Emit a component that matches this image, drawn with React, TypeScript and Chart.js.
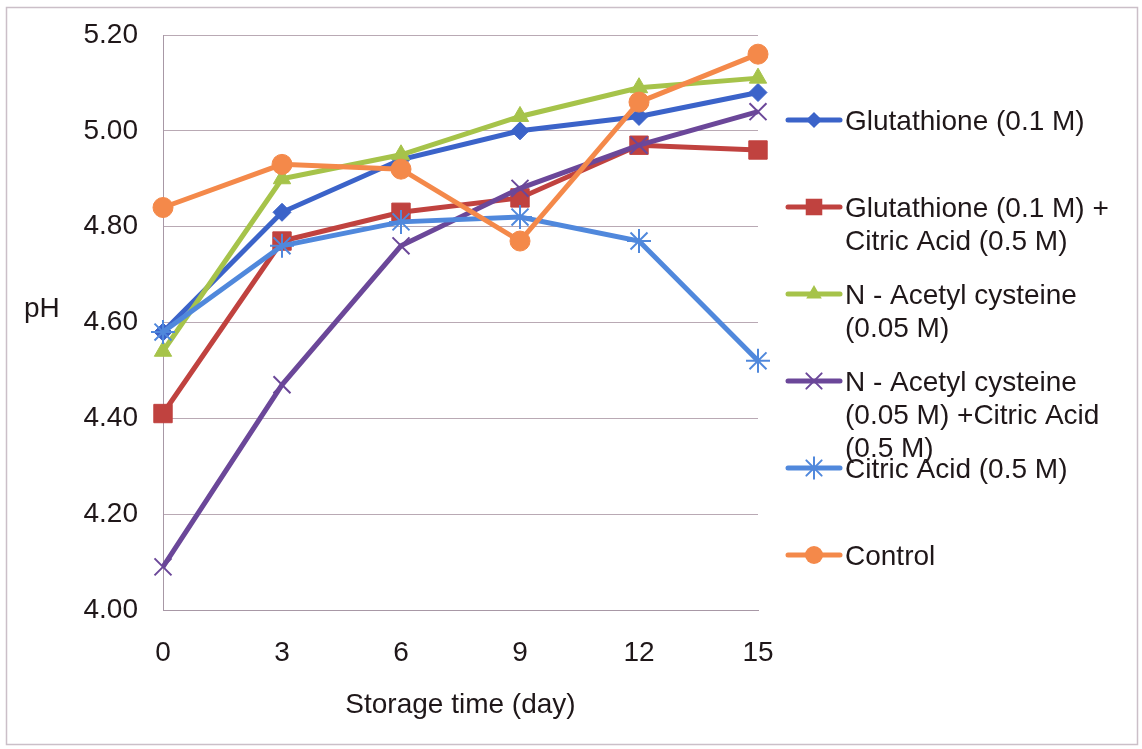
import React, { useEffect, useRef } from 'react';
import { Chart, registerables } from 'chart.js';

Chart.register(...registerables);

const days = ['0', '3', '6', '9', '12', '15'];
const glutathione = [4.58, 4.83, 4.94, 5.0, 5.03, 5.08];
const glutCitric = [4.41, 4.77, 4.83, 4.86, 4.97, 4.96];
const nac = [4.54, 4.9, 4.95, 5.03, 5.09, 5.11];
const nacCitric = [4.09, 4.47, 4.76, 4.88, 4.97, 5.04];
const citric = [4.58, 4.76, 4.81, 4.82, 4.77, 4.52];
const control = [4.84, 4.93, 4.92, 4.77, 5.06, 5.16];

const seriesNames = [
  'Glutathione (0.1 M)',
  'Glutathione (0.1 M) + Citric Acid (0.5 M)',
  'N - Acetyl cysteine (0.05 M)',
  'N - Acetyl cysteine (0.05 M) +Citric Acid (0.5 M)',
  'Citric Acid (0.5 M)',
  'Control',
];
const legendLines = [
  ['Glutathione (0.1 M)'],
  ['Glutathione (0.1 M) +', 'Citric Acid (0.5 M)'],
  ['N - Acetyl cysteine', '(0.05 M)'],
  ['N - Acetyl cysteine', '(0.05 M) +Citric Acid', '(0.5 M)'],
  ['Citric Acid (0.5 M)'],
  ['Control'],
];
const yMin = 4.0;
const yMax = 5.2;
const yStep = 0.2;
const xTitle = 'Storage time (day)';
const yTitle = 'pH';

const colors = ['#3b63c9', '#c0423f', '#a6c34a', '#6b4799', '#5088dc', '#f4894a'];
const styles = ['rectRot', 'rect', 'triangle', 'crossRot', 'star', 'circle'];
const radii = [9, 13, 10, 12, 12, 10];

const FONT = "'Liberation Sans', Arial, sans-serif";
const TEXT = '#1f1719';

function drawMarker(ctx: CanvasRenderingContext2D, style: string, x: number, y: number, r: number, color: string) {
  ctx.save();
  ctx.fillStyle = color;
  ctx.strokeStyle = color;
  ctx.lineWidth = 2;
  ctx.beginPath();
  if (style === 'rectRot') {
    ctx.moveTo(x, y - r);
    ctx.lineTo(x + r, y);
    ctx.lineTo(x, y + r);
    ctx.lineTo(x - r, y);
    ctx.closePath();
    ctx.fill();
  } else if (style === 'rect') {
    const s = r * Math.SQRT1_2;
    ctx.rect(x - s, y - s, 2 * s, 2 * s);
    ctx.fill();
  } else if (style === 'triangle') {
    const h = r * 1.5;
    const w = r * Math.sqrt(3) / 2;
    ctx.moveTo(x, y - r);
    ctx.lineTo(x + w, y - r + h);
    ctx.lineTo(x - w, y - r + h);
    ctx.closePath();
    ctx.fill();
  } else if (style === 'circle') {
    ctx.arc(x, y, r, 0, Math.PI * 2);
    ctx.fill();
  } else if (style === 'crossRot' || style === 'star') {
    const d = r * Math.SQRT1_2;
    ctx.moveTo(x - d, y - d);
    ctx.lineTo(x + d, y + d);
    ctx.moveTo(x - d, y + d);
    ctx.lineTo(x + d, y - d);
    if (style === 'star') {
      ctx.moveTo(x, y - r);
      ctx.lineTo(x, y + r);
      ctx.moveTo(x - r, y);
      ctx.lineTo(x + r, y);
    }
    ctx.stroke();
  }
  ctx.restore();
}

const framePlugin = {
  id: 'frame',
  beforeDraw(chart: any) {
    const ctx = chart.ctx as CanvasRenderingContext2D;
    ctx.save();
    ctx.fillStyle = '#ffffff';
    ctx.fillRect(0, 0, chart.width, chart.height);
    ctx.strokeStyle = '#cbbfc8';
    ctx.lineWidth = 1.5;
    ctx.strokeRect(6.5, 7.5, 1131, 737);
    ctx.restore();
  },
  afterDraw(chart: any) {
    const ctx = chart.ctx as CanvasRenderingContext2D;
    ctx.save();
    ctx.font = `28px ${FONT}`;
    ctx.fillStyle = TEXT;
    ctx.textBaseline = 'alphabetic';
    ctx.textAlign = 'left';
    ctx.fillText(yTitle, 24, 317);
    // legend
    chart.data.datasets.forEach((ds: any, i: number) => {
      const base = 130 + 87 * i;
      const ly = base - 10;
      ctx.strokeStyle = ds.borderColor;
      ctx.lineWidth = 5;
      ctx.lineCap = 'round';
      ctx.beginPath();
      ctx.moveTo(788, ly);
      ctx.lineTo(840, ly);
      ctx.stroke();
      drawMarker(ctx, ds.pointStyle, 814, ly, ds.pointRadius * 0.9, ds.borderColor);
      ctx.fillStyle = TEXT;
      legendLines[i].forEach((t, k) => ctx.fillText(t, 845, base + 33 * k));
    });
    ctx.restore();
  },
};

export default function App() {
  const ref = useRef<HTMLCanvasElement | null>(null);
  useEffect(() => {
    document.body.style.margin = '0';
    if (!ref.current) return;
    const series = [glutathione, glutCitric, nac, nacCitric, citric, control];
    const chart = new Chart(ref.current, {
      type: 'line',
      data: {
        labels: days,
        datasets: series.map((d, i) => ({
          label: seriesNames[i],
          data: d,
          borderColor: colors[i],
          backgroundColor: colors[i],
          borderWidth: 5,
          pointStyle: styles[i],
          pointRadius: radii[i],
          pointBorderWidth: styles[i] === 'crossRot' || styles[i] === 'star' ? 2 : 1,
          pointBorderColor: colors[i],
          pointBackgroundColor: colors[i],
          tension: 0,
          order: -i,
        })),
      },
      options: {
        responsive: false,
        animation: false,
        devicePixelRatio: 1,
        layout: { padding: { left: 0, top: 35, right: 384, bottom: 0 } },
        plugins: { legend: { display: false }, tooltip: { enabled: false } },
        scales: {
          x: {
            type: 'category',
            offset: false,
            grid: { display: false, drawTicks: false },
            border: { display: true, color: '#a898a6', width: 1 },
            ticks: { font: { family: FONT, size: 28 }, color: TEXT, padding: 26, maxRotation: 0 },
            title: {
              display: true,
              text: xTitle,
              font: { family: FONT, size: 28 },
              color: TEXT,
              padding: { top: 0, bottom: 27 },
            },
            afterFit: (s: any) => {
              s.height = 139;
              s.paddingLeft = 0;
              s.paddingRight = 0;
            },
          },
          y: {
            min: yMin,
            max: yMax,
            grid: { color: '#b9a9b4', lineWidth: 1, drawTicks: false },
            border: { display: true, color: '#a898a6', width: 1 },
            ticks: {
              stepSize: yStep,
              font: { family: FONT, size: 28 },
              color: TEXT,
              padding: 25,
              callback: (v: any) => Number(v).toFixed(2),
            },
            afterFit: (s: any) => {
              s.width = 163;
              s.paddingTop = 0;
              s.paddingBottom = 0;
            },
          },
        },
      },
      plugins: [framePlugin],
    } as any);
    return () => chart.destroy();
  }, []);
  return (
    <div style={{ position: 'absolute', left: 0, top: 0, width: 1142, height: 749 }}>
      <canvas ref={ref} width={1142} height={749} />
    </div>
  );
}
